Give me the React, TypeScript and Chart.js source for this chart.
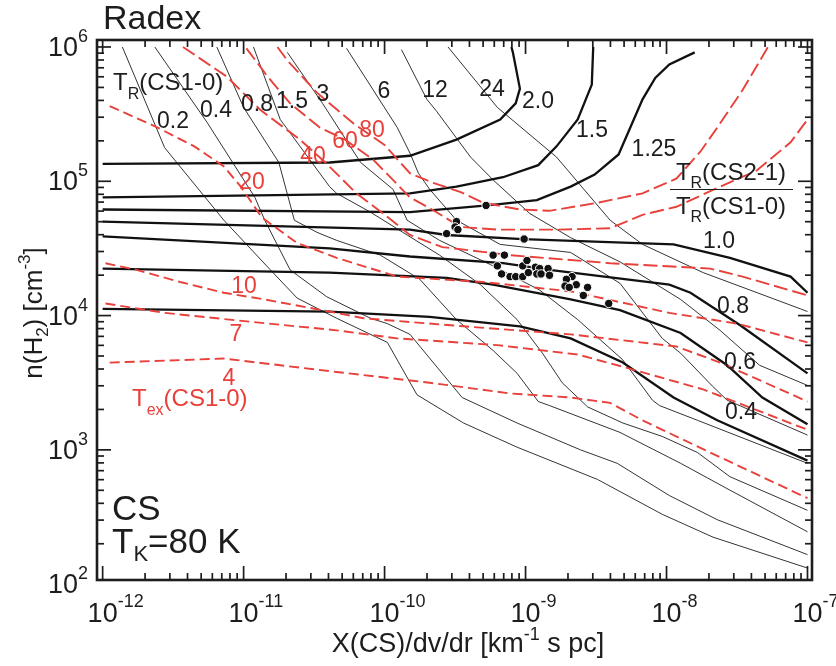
import React, { useEffect, useRef } from "react";
import { Chart, registerables } from "chart.js";
Chart.register(...registerables);

type P = [number, number]; // [log10 X(CS)/dv/dr, log10 n(H2)]

// ---- T_R(CS1-0) contours (thin black) ----
const TR_02: P[] = [[-11.86,6.00],[-11.56,5.25],[-11.14,4.71],[-10.81,4.34],[-10.62,4.13],[-10.34,3.98],[-9.98,3.80],[-9.77,3.41],[-9.44,3.20],[-9.06,3.02],[-8.49,2.78],[-8.03,2.52],[-7.67,2.35],[-7.00,2.12]];
const TR_04: P[] = [[-11.63,6.00],[-11.26,5.44],[-10.92,4.88],[-10.85,4.71],[-10.67,4.34],[-10.41,4.14],[-10.10,3.98],[-9.98,3.94],[-9.82,3.86],[-9.45,3.39],[-9.06,3.20],[-8.61,3.00],[-8.35,2.90],[-7.98,2.66],[-7.64,2.48],[-7.00,2.22]];
const TR_08: P[] = [[-11.19,6.00],[-11.00,5.55],[-10.75,5.14],[-10.64,4.71],[-10.48,4.62],[-10.34,4.56],[-10.03,4.45],[-9.75,4.27],[-9.49,3.97],[-9.23,3.74],[-9.06,3.57],[-8.91,3.36],[-8.83,3.33],[-8.33,3.13],[-7.90,2.90],[-7.55,2.70],[-7.00,2.39]];
const TR_15: P[] = [[-10.93,6.00],[-10.74,5.46],[-10.39,4.96],[-10.34,4.91],[-10.10,4.77],[-9.84,4.60],[-9.61,4.45],[-9.32,4.23],[-9.06,3.97],[-8.88,3.72],[-8.74,3.50],[-8.56,3.32],[-8.31,3.20],[-8.03,3.10],[-7.78,2.98],[-7.55,2.80],[-7.00,2.55]];
const TR_3: P[] = [[-10.69,5.96],[-10.44,5.58],[-10.17,5.14],[-9.94,4.94],[-9.84,4.71],[-9.61,4.56],[-9.25,4.38],[-8.90,4.19],[-8.63,3.97],[-8.31,3.67],[-8.10,3.37],[-8.05,3.33],[-7.78,3.22],[-7.00,2.90]];
const TR_6: P[] = [[-10.27,5.99],[-9.91,5.40],[-9.82,5.21],[-9.76,5.06],[-9.68,4.94],[-9.49,4.71],[-9.18,4.53],[-8.68,4.47],[-8.33,4.24],[-8.03,3.83],[-7.90,3.72],[-7.67,3.47],[-7.57,3.37],[-7.00,3.11]];
const TR_12: P[] = [[-9.88,5.98],[-9.70,5.61],[-9.63,5.52],[-9.39,5.18],[-9.23,5.01],[-8.97,4.76],[-8.68,4.58],[-8.33,4.40],[-7.90,4.12],[-7.62,3.89],[-7.34,3.63],[-7.00,3.48]];
const TR_24: P[] = [[-9.55,6.00],[-9.20,5.55],[-8.78,5.18],[-8.40,4.71],[-8.17,4.53],[-7.74,4.32],[-7.05,4.05],[-7.00,4.03]];

// ---- T_R(CS2-1)/T_R(CS1-0) ratio contours (thick black) ----
const RATIO_20: P[] = [[-12.00,5.13],[-10.39,5.14],[-9.82,5.19],[-9.49,5.31],[-9.18,5.46],[-9.07,5.58],[-9.04,5.69],[-9.09,5.96],[-9.10,6.00]];
const RATIO_15: P[] = [[-12.00,4.88],[-9.82,4.91],[-9.49,4.96],[-9.16,5.03],[-8.91,5.12],[-8.78,5.26],[-8.63,5.46],[-8.53,5.72],[-8.52,6.00]];
const RATIO_125: P[] = [[-12.00,4.79],[-9.82,4.77],[-9.27,4.82],[-8.92,4.86],[-8.68,4.96],[-8.51,5.05],[-8.34,5.20],[-8.17,5.61],[-8.08,5.77],[-7.98,5.87],[-7.80,5.96]];
const RATIO_10: P[] = [[-12.00,4.70],[-9.82,4.64],[-9.56,4.60],[-9.02,4.57],[-7.95,4.53],[-7.55,4.43],[-7.12,4.29],[-7.00,4.17]];
const RATIO_08: P[] = [[-12.00,4.59],[-10.39,4.50],[-9.82,4.44],[-9.16,4.39],[-8.83,4.34],[-7.98,4.23],[-7.83,4.17],[-7.48,3.93],[-7.00,3.57]];
const RATIO_06: P[] = [[-12.00,4.35],[-10.39,4.32],[-9.56,4.28],[-9.23,4.23],[-8.68,4.12],[-8.33,4.04],[-7.90,3.87],[-7.57,3.63],[-7.32,3.39],[-7.00,3.19]];
const RATIO_04: P[] = [[-12.00,4.05],[-10.39,4.03],[-9.68,3.99],[-9.04,3.92],[-8.68,3.83],[-8.31,3.65],[-7.95,3.39],[-7.64,3.22],[-7.00,2.92]];

// ---- T_ex(CS1-0) contours (red dashed) ----
const TEX_4: P[] = [[-11.95,3.65],[-11.14,3.68],[-10.34,3.58],[-9.68,3.50],[-9.11,3.42],[-8.68,3.39],[-8.40,3.35],[-8.17,3.22],[-7.69,2.98],[-7.00,2.64]];
const TEX_7: P[] = [[-11.98,4.09],[-11.56,4.02],[-11.10,3.97],[-10.34,3.89],[-9.91,3.83],[-9.20,3.78],[-8.63,3.71],[-8.28,3.61],[-7.74,3.45],[-7.00,3.15]];
const TEX_10: P[] = [[-11.98,4.39],[-11.76,4.34],[-11.45,4.25],[-11.14,4.17],[-10.85,4.12],[-10.39,4.03],[-10.15,3.98],[-9.44,3.92],[-8.68,3.86],[-7.93,3.77],[-7.62,3.65],[-7.00,3.36]];
const TEX_20: P[] = [[-11.95,5.56],[-11.61,5.40],[-11.35,5.26],[-11.14,5.11],[-11.02,4.96],[-10.87,4.73],[-10.62,4.54],[-10.34,4.43],[-9.91,4.29],[-9.30,4.25],[-8.68,4.18],[-7.98,4.02],[-7.50,3.94],[-7.00,3.80]];
const TEX_40: P[] = [[-11.43,6.00],[-11.12,5.78],[-10.88,5.53],[-10.60,5.31],[-10.42,5.14],[-10.20,4.91],[-10.01,4.76],[-9.82,4.60],[-9.59,4.51],[-9.11,4.45],[-8.40,4.39],[-7.69,4.35],[-7.46,4.29],[-7.00,4.15]];
const TEX_60: P[] = [[-10.98,5.99],[-10.83,5.78],[-10.67,5.58],[-10.46,5.40],[-10.28,5.31],[-10.08,5.16],[-9.82,4.88],[-9.68,4.80],[-9.46,4.66],[-9.20,4.64],[-8.78,4.64],[-8.40,4.65],[-8.17,4.75],[-7.93,4.81],[-7.62,4.96],[-7.36,5.08],[-7.12,5.29],[-7.00,5.46]];
const TEX_80: P[] = [[-10.76,6.00],[-10.69,5.90],[-10.48,5.66],[-10.22,5.43],[-10.00,5.27],[-9.82,5.06],[-9.66,4.99],[-9.46,4.92],[-9.30,4.84],[-9.04,4.79],[-8.83,4.78],[-8.49,4.84],[-8.17,4.91],[-7.93,5.02],[-7.76,5.22],[-7.64,5.40],[-7.46,5.68],[-7.28,6.00]];

// ---- observed sources (black dots) ----
const SOURCES: P[] = [[-9.28,4.82],[-9.49,4.70],[-9.50,4.66],[-9.48,4.64],[-9.56,4.61],[-9.01,4.57],[-9.23,4.45],[-9.15,4.45],[-9.20,4.37],[-9.17,4.31],[-9.11,4.29],[-9.07,4.29],[-9.02,4.37],[-8.99,4.41],[-9.02,4.29],[-8.98,4.32],[-8.93,4.36],[-8.90,4.35],[-8.84,4.35],[-8.92,4.31],[-8.89,4.31],[-8.83,4.30],[-8.67,4.29],[-8.71,4.27],[-8.72,4.22],[-8.64,4.23],[-8.56,4.21],[-8.69,4.21],[-8.59,4.15],[-8.41,4.09]];

const X_TICK_EXPS = [-12, -11, -10, -9, -8, -7];
const Y_TICK_EXPS = [2, 3, 4, 5, 6];
const X_RANGE = [-12.04, -6.968];
const Y_RANGE = [2.031, 6.052];

const FONT = '"Liberation Sans", Arial, Helvetica, sans-serif';
const RED = "#e8403a";
const INK = "#1d1d1d";

type Run = { t: string; size: number; dy?: number };

function drawRuns(ctx: CanvasRenderingContext2D, runs: Run[], x: number, y: number, align: "left" | "center" | "right", color: string) {
  const widths = runs.map((r) => { ctx.font = `${r.size}px ${FONT}`; return ctx.measureText(r.t).width; });
  const total = widths.reduce((a, b) => a + b, 0);
  let cx = align === "left" ? x : align === "center" ? x - total / 2 : x - total;
  ctx.fillStyle = color;
  ctx.textAlign = "left";
  ctx.textBaseline = "alphabetic";
  runs.forEach((r, i) => {
    ctx.font = `${r.size}px ${FONT}`;
    ctx.fillText(r.t, cx, y + (r.dy || 0));
    cx += widths[i];
  });
}

const toPts = (arr: P[]) => arr.map(([a, b]) => ({ x: Math.pow(10, a), y: Math.pow(10, b) }));

const framePlugin = {
  id: "frameTicks",
  afterDraw(chart: any) {
    const { ctx, chartArea: a, scales } = chart;
    const xs = scales.x, ys = scales.y;
    ctx.save();
    ctx.strokeStyle = INK;
    ctx.lineCap = "butt";
    const seg = (x1: number, y1: number, x2: number, y2: number) => { ctx.beginPath(); ctx.moveTo(x1, y1); ctx.lineTo(x2, y2); ctx.stroke(); };
    ctx.lineWidth = 1.7;
    for (let e = -13; e <= -6; e++) for (let m = 1; m <= 9; m++) {
      const px = xs.getPixelForValue(m * Math.pow(10, e));
      if (px < a.left + 1 || px > a.right - 1) continue;
      const L = m === 1 ? 14 : 7;
      seg(px, a.bottom, px, a.bottom - L);
      seg(px, a.top, px, a.top + L);
    }
    for (let e = 1; e <= 6; e++) for (let m = 1; m <= 9; m++) {
      const py = ys.getPixelForValue(m * Math.pow(10, e));
      if (py < a.top + 1 || py > a.bottom - 1) continue;
      const L = m === 1 ? 14 : 7;
      seg(a.left, py, a.left + L, py);
      seg(a.right, py, a.right - L, py);
    }
    ctx.lineWidth = 2.6;
    ctx.strokeRect(a.left, a.top, a.right - a.left, a.bottom - a.top);

    // tick labels
    X_TICK_EXPS.forEach((e) => {
      const px = xs.getPixelForValue(Math.pow(10, e));
      ctx.font = `27px ${FONT}`;
      const w = ctx.measureText("10").width;
      drawRuns(ctx, [{ t: "10", size: 27 }, { t: String(e), size: 18, dy: -15 }], px - w / 2, 622, "left", INK);
    });
    Y_TICK_EXPS.forEach((e) => {
      const py = ys.getPixelForValue(Math.pow(10, e));
      drawRuns(ctx, [{ t: "10", size: 27 }, { t: String(e), size: 18, dy: -14 }], 88, py + 9, "right", INK);
    });

    // axis titles
    drawRuns(ctx, [{ t: "X(CS)/dv/dr [km", size: 27 }, { t: "-1", size: 18, dy: -12 }, { t: " s pc]", size: 27 }], 468, 652, "center", INK);
    ctx.save();
    ctx.translate(42, 313);
    ctx.rotate(-Math.PI / 2);
    drawRuns(ctx, [{ t: "n(H", size: 26 }, { t: "2", size: 17, dy: 6 }, { t: ") [cm", size: 26 }, { t: "-3", size: 17, dy: -12 }, { t: "]", size: 26 }], 0, 0, "center", INK);
    ctx.restore();

    // title and annotations
    drawRuns(ctx, [{ t: "Radex", size: 34 }], 103, 29, "left", INK);
    drawRuns(ctx, [{ t: "CS", size: 35 }], 112, 520, "left", INK);
    drawRuns(ctx, [{ t: "T", size: 35 }, { t: "K", size: 22, dy: 8 }, { t: "=80 K", size: 35 }], 112, 553, "left", INK);
    drawRuns(ctx, [{ t: "T", size: 24 }, { t: "R", size: 16, dy: 9 }, { t: "(CS1-0)", size: 24 }], 113, 90, "left", INK);
    drawRuns(ctx, [{ t: "T", size: 24 }, { t: "ex", size: 16, dy: 9 }, { t: "(CS1-0)", size: 24 }], 132, 406, "left", RED);
    drawRuns(ctx, [{ t: "T", size: 24 }, { t: "R", size: 16, dy: 8 }, { t: "(CS2-1)", size: 24 }], 731, 180, "center", INK);
    drawRuns(ctx, [{ t: "T", size: 24 }, { t: "R", size: 16, dy: 8 }, { t: "(CS1-0)", size: 24 }], 731, 214, "center", INK);
    ctx.lineWidth = 1;
    seg(670, 189.5, 793, 189.5);

    const blackLabels: [string, number, number][] = [
      ["0.2", 173, 128], ["0.4", 216, 117], ["0.8", 257, 111], ["1.5", 292, 108], ["3", 323, 101], ["6", 384, 98], ["12", 435, 97], ["24", 492, 96],
      ["2.0", 538, 108], ["1.5", 592, 137], ["1.25", 654, 156], ["1.0", 719, 248], ["0.8", 733, 313], ["0.6", 740, 369], ["0.4", 741, 419],
    ];
    blackLabels.forEach(([t, x, y]) => drawRuns(ctx, [{ t, size: 23 }], x, y, "center", INK));
    const redLabels: [string, number, number][] = [
      ["80", 372, 137], ["60", 345, 148], ["40", 313, 163], ["20", 252, 189], ["10", 244, 293], ["7", 236, 341], ["4", 229, 385],
    ];
    redLabels.forEach(([t, x, y]) => drawRuns(ctx, [{ t, size: 23 }], x, y, "center", RED));
    ctx.restore();
  },
};

export default function App() {
  const ref = useRef<HTMLCanvasElement>(null);
  useEffect(() => {
    if (!ref.current) return;
    const thin = (d: P[]) => ({ data: toPts(d), showLine: true, borderColor: INK, borderWidth: 0.9, pointRadius: 0, order: 4 });
    const thick = (d: P[]) => ({ data: toPts(d), showLine: true, borderColor: "#111", borderWidth: 2.3, pointRadius: 0, order: 3 });
    const red = (d: P[], dash: number[]) => ({ data: toPts(d), showLine: true, borderColor: RED, borderWidth: 1.9, borderDash: dash, pointRadius: 0, order: 2 });
    const DASH = [10, 5];
    const LONG_DASH = [14, 5];
    const datasets: any[] = [
      ...[TR_02, TR_04, TR_08, TR_15, TR_3, TR_6, TR_12, TR_24].map(thin),
      ...[RATIO_20, RATIO_15, RATIO_125, RATIO_10, RATIO_08, RATIO_06, RATIO_04].map(thick),
      ...[TEX_4, TEX_7, TEX_10, TEX_20].map((d) => red(d, DASH)),
      ...[TEX_40, TEX_60, TEX_80].map((d) => red(d, LONG_DASH)),
      { data: toPts(SOURCES), showLine: false, pointRadius: 4.2, pointBackgroundColor: "#111", pointBorderColor: "#fff", pointBorderWidth: 1, order: 1 },
    ];
    const chart = new Chart(ref.current, {
      type: "scatter",
      data: { datasets },
      options: {
        animation: false,
        responsive: false,
        maintainAspectRatio: false,
        events: [],
        layout: { padding: { left: 97, right: 24, top: 40, bottom: 86 } },
        plugins: { legend: { display: false }, title: { display: false }, tooltip: { enabled: false } },
        elements: { line: { tension: 0 } },
        scales: {
          x: { type: "logarithmic", display: false, min: Math.pow(10, X_RANGE[0]), max: Math.pow(10, X_RANGE[1]) },
          y: { type: "logarithmic", display: false, min: Math.pow(10, Y_RANGE[0]), max: Math.pow(10, Y_RANGE[1]) },
        },
      } as any,
      plugins: [framePlugin],
    });
    return () => chart.destroy();
  }, []);
  return (
    <div style={{ position: "fixed", left: 0, top: 0, width: 836, height: 666, background: "#fff" }}>
      <canvas ref={ref} width={836} height={666} style={{ display: "block" }} />
    </div>
  );
}
